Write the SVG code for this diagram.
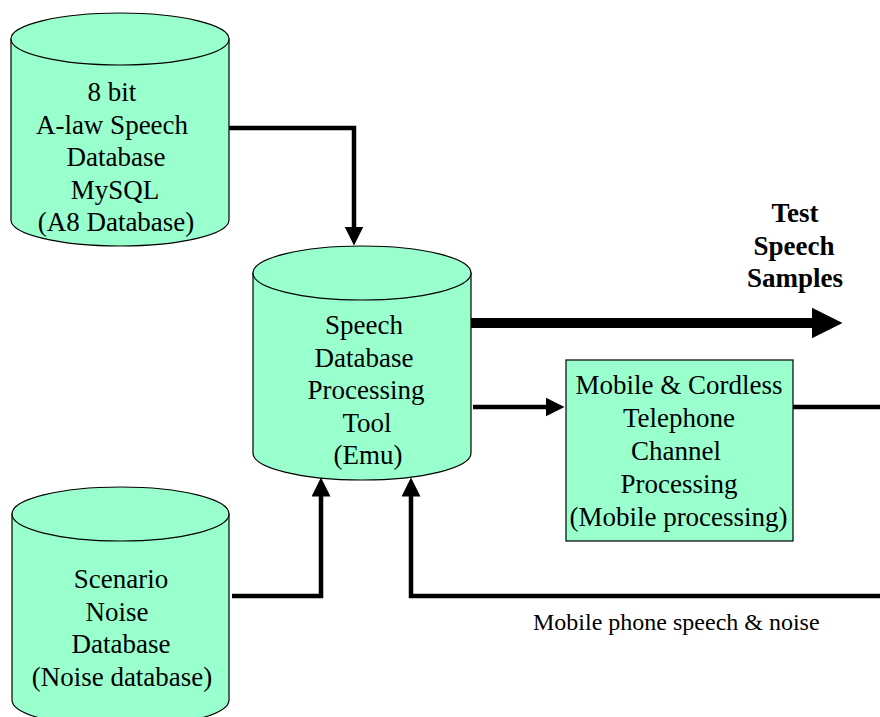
<svg xmlns="http://www.w3.org/2000/svg" width="880" height="717" viewBox="0 0 880 717">
<style>
.shape{fill:#99ffcc;stroke:#000;stroke-width:1.2}
.t{font-family:"Liberation Serif","Times New Roman",serif;font-size:27px;fill:#000;text-anchor:middle}
.b{font-weight:bold}
.lbl{font-family:"Liberation Serif","Times New Roman",serif;font-size:24px;fill:#000}
.c{fill:none;stroke:#000;stroke-width:4.5;stroke-linejoin:miter}
.thick{fill:none;stroke:#000;stroke-width:10}
</style>
<defs>
<marker id="ah" markerUnits="userSpaceOnUse" markerWidth="20" markerHeight="20" refX="0.5" refY="9.5" orient="auto">
<path d="M0,0 L19,9.5 L0,19 z" fill="#000"/>
</marker>
<marker id="ahBig" markerUnits="userSpaceOnUse" markerWidth="34" markerHeight="34" refX="0.5" refY="15.5" orient="auto">
<path d="M0,0 L31,15.5 L0,31 z" fill="#000"/>
</marker>
</defs>
<rect width="880" height="717" fill="#fff"/>

<g id="a8db">
<path class="shape" d="M11,39 V220 A109,26 0 0 0 229,220 V39 Z"/>
<ellipse class="shape" cx="120" cy="39" rx="109" ry="26"/>
<text class="t" x="112" y="101">8 bit</text>
<text class="t" x="112" y="133.5">A-law Speech</text>
<text class="t" x="116" y="166">Database</text>
<text class="t" x="115" y="198.5">MySQL</text>
<text class="t" x="116" y="231">(A8 Database)</text>
</g>

<g id="emu">
<path class="shape" d="M253,273 V453 A109,27 0 0 0 471,453 V273 Z"/>
<ellipse class="shape" cx="362" cy="273" rx="109" ry="27"/>
<text class="t" x="364" y="334">Speech</text>
<text class="t" x="364" y="366.5">Database</text>
<text class="t" x="366" y="399">Processing</text>
<text class="t" x="367" y="431.5">Tool</text>
<text class="t" x="368" y="464">(Emu)</text>
</g>

<g id="noisedb">
<path class="shape" d="M12,514 V700 A108.5,27 0 0 0 229,700 V514 Z"/>
<ellipse class="shape" cx="120.5" cy="514" rx="108.5" ry="27"/>
<text class="t" x="121" y="588">Scenario</text>
<text class="t" x="117" y="620.5">Noise</text>
<text class="t" x="121" y="653">Database</text>
<text class="t" x="122" y="685.5">(Noise database)</text>
</g>

<g id="mobile">
<rect class="shape" x="566" y="360" width="227" height="181"/>
<text class="t" x="679" y="394">Mobile &amp; Cordless</text>
<text class="t" x="679" y="427">Telephone</text>
<text class="t" x="676" y="460">Channel</text>
<text class="t" x="679" y="493">Processing</text>
<text class="t" x="678.5" y="526">(Mobile processing)</text>
</g>

<g id="output-label">
<text class="t b" x="795" y="222">Test</text>
<text class="t b" x="794" y="254.5">Speech</text>
<text class="t b" x="795" y="287">Samples</text>
</g>

<g id="connectors">
<path class="c" d="M229,128 H354 V227" marker-end="url(#ah)"/>
<path class="thick" d="M471,323 H812" marker-end="url(#ahBig)"/>
<path class="c" d="M473,407 H546" marker-end="url(#ah)"/>
<path class="c" d="M793,407 H880"/>
<path class="c" d="M232,596 H321 V496" marker-end="url(#ah)"/>
<path class="c" d="M880,596 H411 V496" marker-end="url(#ah)"/>
<text class="lbl" x="533" y="630">Mobile phone speech &amp; noise</text>
</g>
</svg>
